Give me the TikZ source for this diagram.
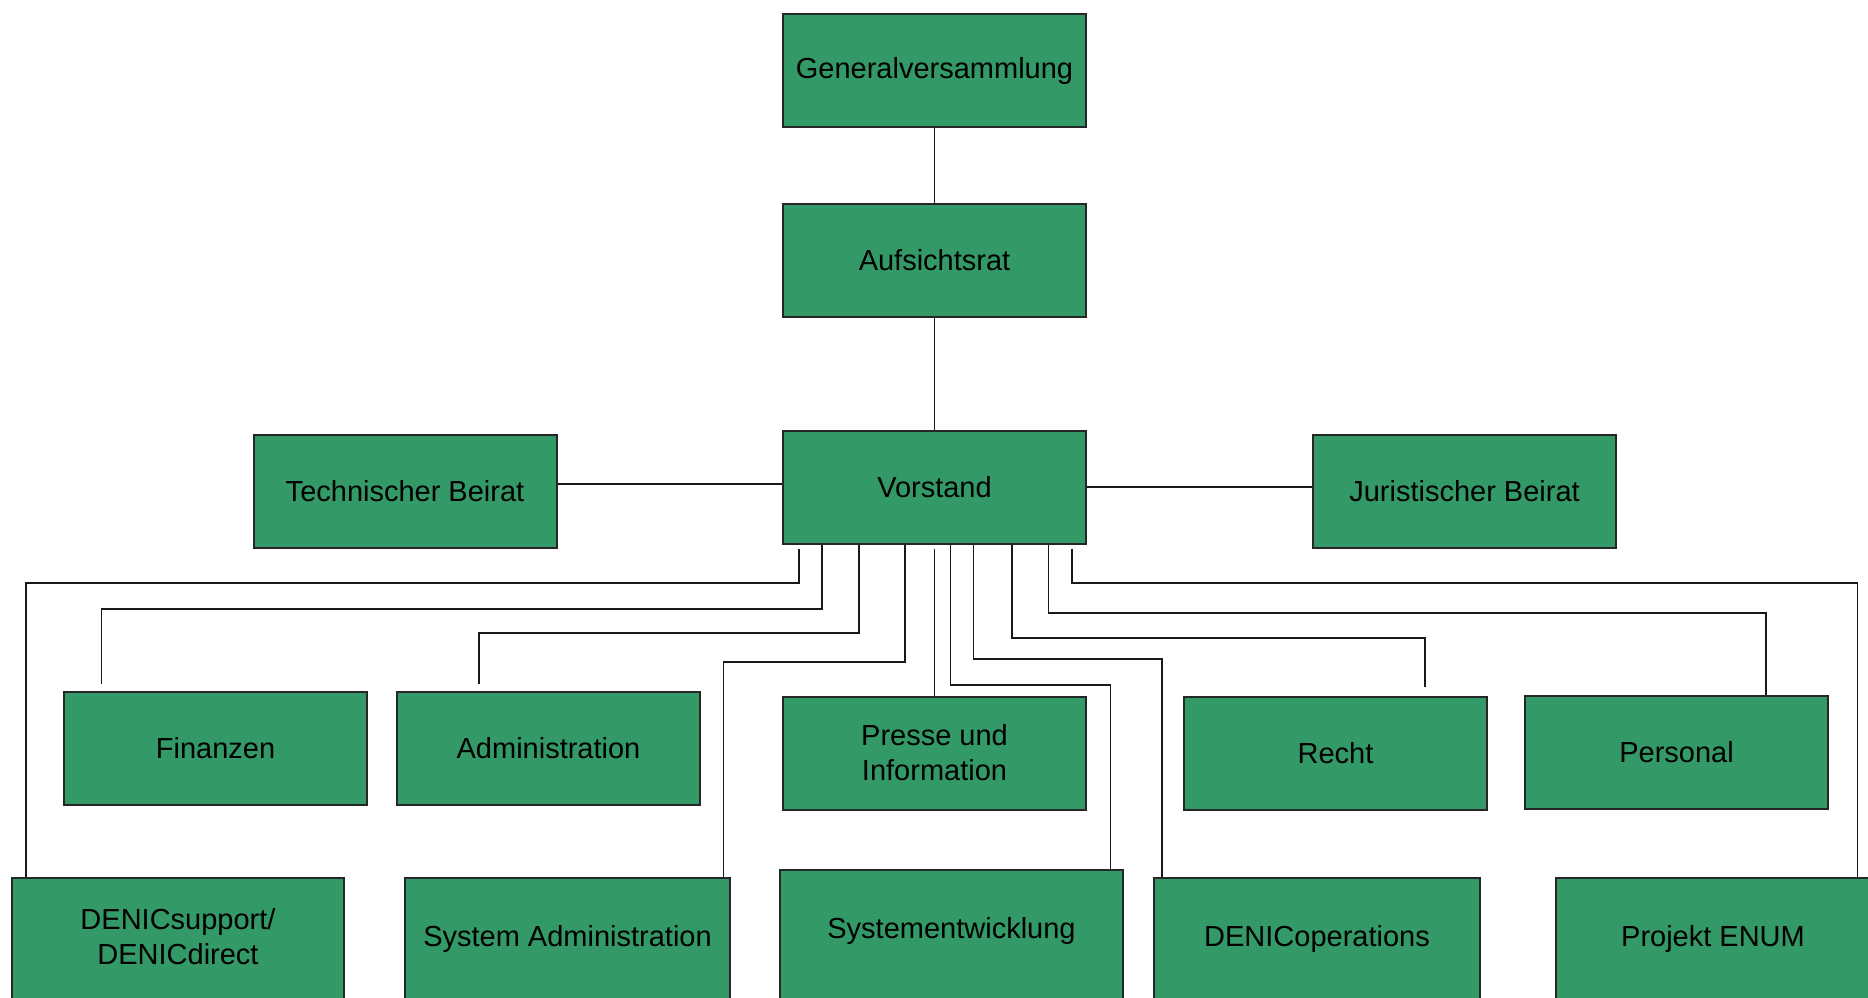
\documentclass[tikz,border=0pt]{standalone}
\usepackage{fontspec}
\setmainfont{Liberation Sans}
\usepackage{xcolor}
\usetikzlibrary{calc}
\definecolor{orggreen}{RGB}{51,153,102}

\tikzset{
  unit/.style={draw=black!85, line width=1pt, fill=orggreen, minimum width=151.5pt,
    minimum height=56.5pt, inner sep=0pt, align=center,
    font=\fontsize{14.5}{17.5}\selectfont},
  lowunit/.style={unit, minimum height=66pt, text depth=8pt},
  link/.style={black!90, line width=0.9pt}
}

\begin{document}
\begin{tikzpicture}[x=0.5pt, y=-0.5pt]
    \useasboundingbox (0,0) rectangle (1868,997);

    % top of the chart
    \node[unit] (gv) at (934.5,70.5) {Generalversammlung};
    \node[unit] (ar) at (934.5,260.5) {Aufsichtsrat};
    \node[unit] (vs) at (934.5,487) {Vorstand};
    \node[unit] (tb) at (405,491.5) {Technischer Beirat};
    \node[unit] (jb) at (1464.5,491.5) {Juristischer Beirat};

    % first row of departments
    \node[unit] (fin) at (215.5,748.5) {Finanzen};
    \node[unit] (adm) at (548.5,748.5) {Administration};
    \node[unit] (pi) at (934.5,753) {Presse und\\Information};
    \node[unit] (recht) at (1335.5,753) {Recht};
    \node[unit] (pers) at (1676.5,752) {Personal};

    % second row, cut off by the lower edge
    \node[lowunit, minimum width=166pt] (sup) at (178,944) {DENICsupport/\\DENICdirect};
    \node[lowunit, minimum width=162.5pt] (sa) at (567.5,944) {System Administration};
    \node[lowunit, minimum width=171.5pt] (se) at (951.5,936) {Systementwicklung};
    \node[lowunit, minimum width=163pt] (ops) at (1317,944) {DENICoperations};
    \node[lowunit, minimum width=157pt] (enum) at (1713,944) {Projekt ENUM};

    % chain and advisory boards
    \draw[link] (gv.south) -- (ar.north);
    \draw[link] (ar.south) -- (vs.north);
    \draw[link] ($(vs.west)+(0,-3)$) -- ($(tb.east |- vs.west)+(0,-3)$);
    \draw[link] (vs.east) -- (jb.west |- vs.east);

    % branches to the left
    \draw[link] ($(vs.south)+(-135.5,4)$) -- ++(0,34.8) -| ($(sup.north west)+(15,0)$);
    \draw[link] ($(vs.south)+(-112.5,0)$) -- ++(0,64.8) -| ($(fin.north west)+(38.5,-7)$);
    \draw[link] ($(vs.south)+(-75.5,0)$) -- ++(0,88.8) -| ($(adm.north west)+(83,-7)$);
    \draw[link] ($(vs.south)+(-29.5,0)$) -- ++(0,117.2) -| ($(sa.north east)+(-7.5,0)$);
    \draw[link] ($(vs.south)+(0,4)$) -- (pi.north);

    % branches to the right
    \draw[link] ($(vs.south)+(16,0)$) -- ++(0,140.5) -| ($(se.north east)+(-13.5,0)$);
    \draw[link] ($(vs.south)+(39,0)$) -- ++(0,114.8) -| ($(ops.north west)+(9,0)$);
    \draw[link] ($(vs.south)+(77.5,0)$) -- ++(0,93.8) -| ($(recht.north west)+(242,-9)$);
    \draw[link] ($(vs.south)+(114,0)$) -- ++(0,68.8) -| ($(pers.north west)+(242,0)$);
    \draw[link] ($(vs.south)+(137.5,4)$) -- ++(0,34.8) -| ($(enum.north east)+(-13.5,0)$);
\end{tikzpicture}
\end{document}
